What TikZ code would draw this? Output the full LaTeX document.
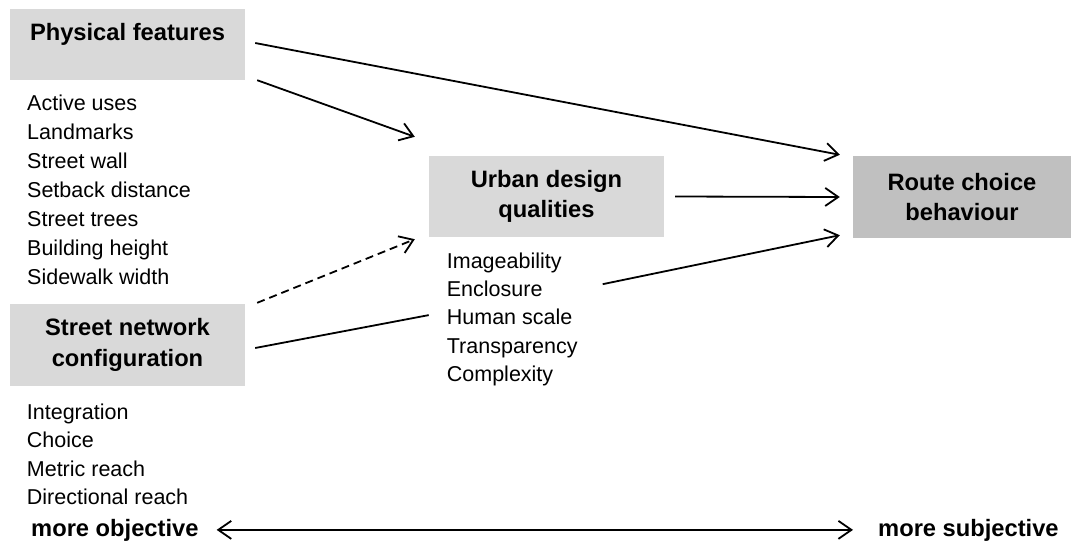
\documentclass[tikz,border=0pt]{standalone}
\usepackage{fontspec}
\setmainfont{Liberation Sans}
\usetikzlibrary{arrows.meta,positioning,calc}
\definecolor{ink}{RGB}{0,0,0}
\definecolor{boxlight}{RGB}{217,217,217}
\definecolor{boxdark}{RGB}{192,192,192}

\tikzset{
  box/.style={fill=boxlight,draw=none,minimum width=235pt,minimum height=81pt,
    align=center,inner sep=0pt,text=ink,
    font=\fontsize{23.7}{29.5}\selectfont\bfseries},
  item/.style={anchor=base west,inner sep=0pt,text=ink,
    font=\fontsize{21.5}{26}\selectfont},
  ends/.style={anchor=base west,inner sep=0pt,text=ink,
    font=\fontsize{23.7}{29.5}\selectfont\bfseries},
  conn/.style={draw=ink,line width=1.8pt},
  barb/.tip={Straight Barb[length=13pt,width=18pt]},
  arr/.style={conn,-barb},
}

\begin{document}
\begin{tikzpicture}[x=1pt,y=-1pt]
  \useasboundingbox (0,0) rectangle (1079,544);

  % the four boxes
  \node[box,text height=17pt,text depth=24.6pt,minimum height=71pt]
    (phys) at (127.5,44.5) {Physical features};
  \node[box] (urban) at (546.5,196.5) {Urban design\\qualities};
  \node[box,fill=boxdark,minimum width=218pt,minimum height=82pt]
    (route) at (962,197) {Route choice\\behaviour};
  \node[box,minimum height=82pt] (street) at (127.5,345)
    {Street network\\[1.5pt]configuration};

  % lists under the boxes
  \foreach \name [count=\i] in {Active uses,Landmarks,Street wall,
      Setback distance,Street trees,Building height,Sidewalk width}
    \node[item] (phys-\i) at (27,{110+29*(\i-1)}) {\name};
  \foreach \name [count=\i] in {Imageability,Enclosure,Human scale,
      Transparency,Complexity}
    \node[item] (urb-\i) at (446.7,{268.3+28.25*(\i-1)}) {\name};
  \foreach \name [count=\i] in {Integration,Choice,Metric reach,
      Directional reach}
    \node[item] (net-\i) at (26.7,{419.3+28.5*(\i-1)}) {\name};

  % links
  \draw[arr] ($(phys.east)+(10,-1.5)$) -- ($(route.north west)+(-13,-1)$);
  \draw[arr] ($(phys.south east)+(12,0)$) -- ($(urban.north west)+(-14,-19)$);
  \draw[arr] ($(urban.east)+(11,0)$) -- ($(route.west)+(-13,0)$);
  \draw[arr] ($(urb-2.east)+(60,-4.7)$) -- ($(route.south west)+(-13,-3)$);
  \draw[arr,dash pattern=on 8pt off 5pt]
    ($(street.north east)+(12,-1)$) -- ($(urban.south west)+(-14,2)$);
  \draw[conn] ($(street.east)+(10,3)$) -- ($(urb-3.west)+(-18,-2)$);

  % scale along the bottom
  \node[ends] (obj) at (31,536) {more objective};
  \node[ends] (subj) at (878,536) {more subjective};
  \draw[conn,barb-barb,shorten <=18pt,shorten >=25pt] (obj.east) -- (subj.west);
\end{tikzpicture}
\end{document}
